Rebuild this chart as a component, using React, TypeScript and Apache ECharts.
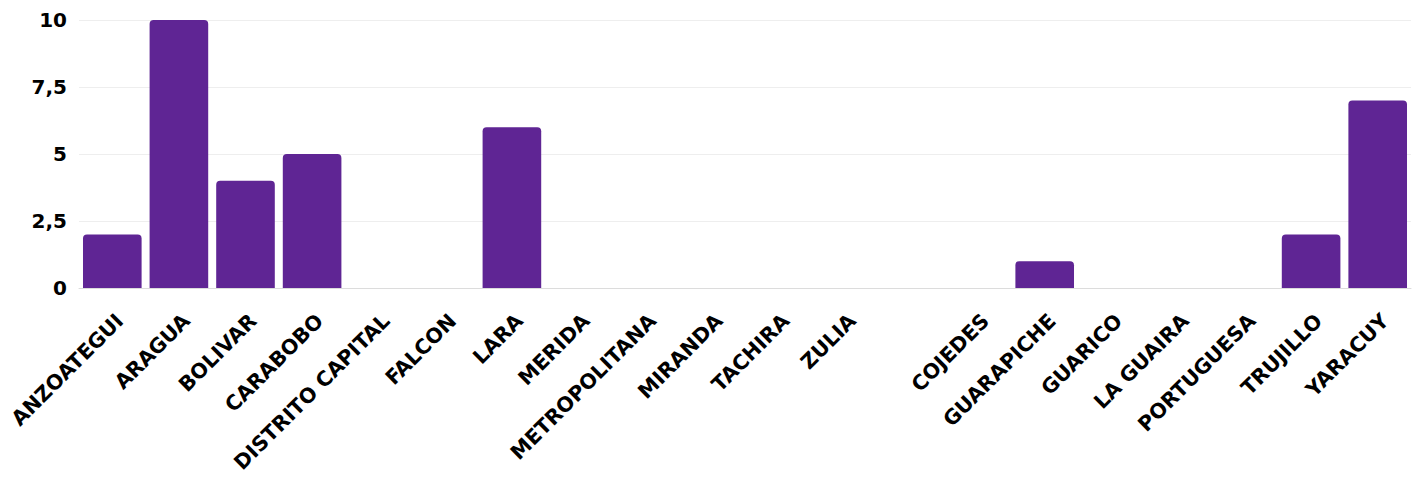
import React, { useEffect, useRef } from "react";
import * as echarts from "echarts";

const categories: string[] = [
  "ANZOATEGUI", "ARAGUA", "BOLIVAR", "CARABOBO", "DISTRITO CAPITAL", "FALCON",
  "LARA", "MERIDA", "METROPOLITANA", "MIRANDA", "TACHIRA", "ZULIA", "",
  "COJEDES", "GUARAPICHE", "GUARICO", "LA GUAIRA", "PORTUGUESA", "TRUJILLO", "YARACUY",
];
const values: number[] = [2, 10, 4, 5, 0, 0, 6, 0, 0, 0, 0, 0, 0, 0, 1, 0, 0, 0, 2, 7];
const yTicks: number[] = [0, 2.5, 5, 7.5, 10];

const FONT = "'DejaVu Sans', Verdana, sans-serif";

export default function App() {
  const ref = useRef<HTMLDivElement>(null);
  useEffect(() => {
    if (!ref.current) return;
    const chart = echarts.init(ref.current, undefined, { renderer: "svg" });
    chart.setOption({
      animation: false,
      backgroundColor: "#ffffff",
      grid: { left: 79, right: 3, top: 20, bottom: 189, containLabel: false },
      xAxis: {
        type: "category",
        data: categories,
        axisLine: { show: true, lineStyle: { color: "#dcdcdc", width: 1 } },
        axisTick: { show: false },
        axisLabel: {
          interval: 0,
          rotate: 45,
          margin: 22,
          verticalAlign: "top",
          color: "#000000",
          fontFamily: FONT,
          fontWeight: "bold",
          fontSize: 20.5,
        },
      },
      yAxis: {
        type: "value",
        min: yTicks[0],
        max: yTicks[yTicks.length - 1],
        interval: 2.5,
        axisLine: { show: false },
        axisTick: { show: false },
        splitLine: { show: true, lineStyle: { color: "#eeeeee", width: 1 } },
        axisLabel: {
          margin: 12,
          color: "#000000",
          fontFamily: FONT,
          fontWeight: "bold",
          fontSize: 20,
          formatter: (v: number) => String(v).replace(".", ","),
        },
      },
      series: [
        {
          type: "bar",
          data: values,
          barCategoryGap: "12%",
          itemStyle: { color: "#5f2594", borderRadius: [4, 4, 0, 0] },
        },
      ],
    });
    return () => chart.dispose();
  }, []);
  return (
    <div
      ref={ref}
      style={{ position: "fixed", left: 0, top: 0, width: 1414, height: 477 }}
    />
  );
}
